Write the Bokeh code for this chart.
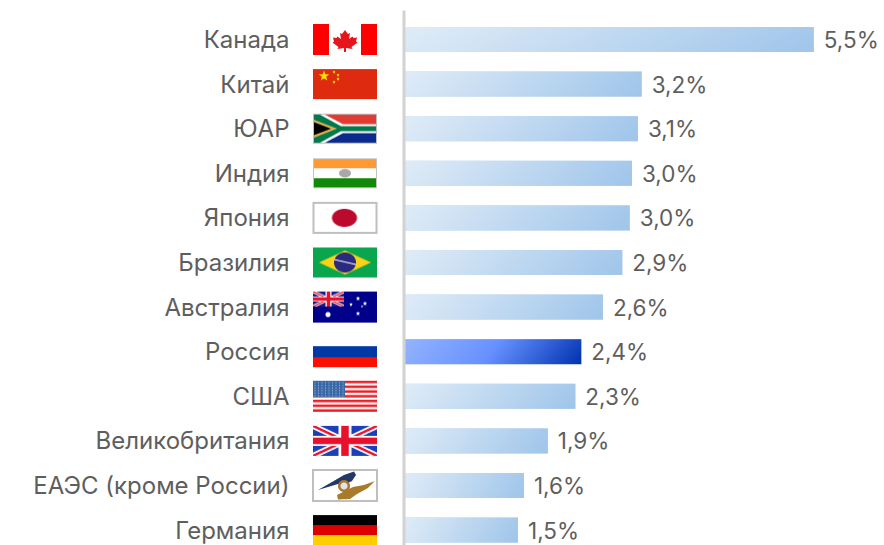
import numpy as np
from bokeh.plotting import figure
from bokeh.models import Range1d, ColumnDataSource
from bokeh.core.properties import value
from bokeh.embed import file_html
from bokeh.resources import INLINE

categories = ["Канада", "Китай", "ЮАР", "Индия", "Япония", "Бразилия", "Австралия",
              "Россия", "США", "Великобритания", "ЕАЭС (кроме России)", "Германия"]
values = [5.5, 3.19, 3.14, 3.06, 3.03, 2.93, 2.67, 2.38, 2.30, 1.93, 1.61, 1.53]
labels = ["5,5%", "3,2%", "3,1%", "3,0%", "3,0%", "2,9%", "2,6%", "2,4%", "2,3%", "1,9%", "1,6%", "1,5%"]
highlight = "Россия"

WIDTH, HEIGHT = 884, 545
PXX = 74.5      # px per percent
PITCH = 44.6    # px per row
X0 = 403.5      # px of zero
Y0 = 39         # px of the first row
FONT = "Inter"
TEXT = "#5e5e5e"
SS = 4


def hexc(c):
    c = c.lstrip("#")
    return np.array([int(c[i:i + 2], 16) for i in (0, 2, 4)], dtype=float)


class Flag:
    def __init__(self, w, h, bg="#ffffff"):
        self.w, self.h = w, h
        self.a = np.ones((h * SS, w * SS, 3)) * hexc(bg)
        xs = (np.arange(w * SS) + .5) / SS
        ys = (np.arange(h * SS) + .5) / SS
        self.u, self.v = np.meshgrid(xs, ys)

    def paint(self, m, c):
        self.a[m] = hexc(c)

    def rect(self, x0, y0, x1, y1, c):
        self.paint((self.u >= x0) & (self.u < x1) & (self.v >= y0) & (self.v < y1), c)

    def circle(self, x, y, rx, c, ry=None):
        ry = ry or rx
        self.paint(((self.u - x) / rx) ** 2 + ((self.v - y) / ry) ** 2 <= 1, c)

    def poly(self, pts, c):
        m = np.zeros_like(self.u, dtype=bool)
        n = len(pts)
        for i in range(n):
            x1, y1 = pts[i]
            x2, y2 = pts[(i + 1) % n]
            if y1 == y2:
                continue
            cond = (y1 > self.v) != (y2 > self.v)
            m ^= cond & (self.u < (x2 - x1) * (self.v - y1) / (y2 - y1) + x1)
        self.paint(m, c)

    def line(self, x1, y1, x2, y2, t, c):
        dx, dy = x2 - x1, y2 - y1
        l = np.hypot(dx, dy)
        nx, ny = -dy / l * t / 2, dx / l * t / 2
        self.poly([(x1 + nx, y1 + ny), (x2 + nx, y2 + ny), (x2 - nx, y2 - ny), (x1 - nx, y1 - ny)], c)

    def star(self, x, y, r, c):
        pts = []
        for k in range(10):
            rr = r if k % 2 == 0 else r * .42
            t = -np.pi / 2 + k * np.pi / 5
            pts.append((x + rr * np.cos(t), y + rr * np.sin(t)))
        self.poly(pts, c)

    def border(self, t, c):
        w, h = self.w, self.h
        self.rect(0, 0, w, t, c); self.rect(0, h - t, w, h, c)
        self.rect(0, 0, t, h, c); self.rect(w - t, 0, w, h, c)

    def rgba(self):
        h, w = self.h, self.w
        b = self.a.reshape(h, SS, w, SS, 3).mean(axis=(1, 3))
        out = np.zeros((h, w), dtype=np.uint32)
        v = out.view(dtype=np.uint8).reshape((h, w, 4))
        v[:, :, :3] = np.round(b[::-1]).astype(np.uint8)
        v[:, :, 3] = 255
        return out


def union_jack(f, W, H, blue):
    f.rect(0, 0, W, H, blue)
    f.line(0, 0, W, H, H * .2, "#ffffff")
    f.line(0, H, W, 0, H * .2, "#ffffff")
    f.line(0, 0, W, H, H * .08, "#e8112d")
    f.line(0, H, W, 0, H * .08, "#e8112d")
    f.rect(W * .4, 0, W * .6, H, "#ffffff")
    f.rect(0, H * .33, W, H * .67, "#ffffff")
    f.rect(W * .44, 0, W * .56, H, "#e8112d")
    f.rect(0, H * .39, W, H * .61, "#e8112d")


def canada():
    f = Flag(64, 31)
    f.rect(0, 0, 16, 31, "#ff0000"); f.rect(48, 0, 64, 31, "#ff0000")
    cx = 32
    half = [(0, 6), (3, 10), (5, 9), (4, 15), (7.5, 12.5), (8.5, 14), (12, 13.5), (11, 17.5),
            (12.5, 18.5), (6.5, 23), (7.5, 25), (1, 24), (1, 28)]
    pts = [(cx + a, b) for a, b in half] + [(cx - a, b) for a, b in reversed(half)]
    f.poly(pts, "#e8141c")
    return f


def china():
    f = Flag(64, 30, "#de2a0e")
    f.star(11, 7, 5.5, "#ffde00")
    for x, y in [(21, 3), (25, 6), (25, 10), (21, 13)]:
        f.star(x, y, 1.9, "#ffde00")
    return f


def south_africa():
    f = Flag(64, 30, "#bdbdbd")
    f.rect(1, 1, 63, 14, "#e03c31")
    f.rect(1, 16, 63, 29, "#0a2a8c")
    f.poly([(1, 1), (12, 1), (30, 10.5), (63, 10.5), (63, 19.5), (30, 19.5), (12, 29), (1, 29)], "#ffffff")
    f.poly([(1, 1), (7, 1), (28, 12.5), (63, 12.5), (63, 17.5), (28, 17.5), (7, 29), (1, 29)], "#007a4d")
    f.poly([(1, 6), (24, 15), (1, 24)], "#e2b050")
    f.poly([(1, 8.5), (18, 15), (1, 21.5)], "#000000")
    return f


def india():
    f = Flag(64, 30, "#ffffff")
    f.rect(1, 1, 63, 10, "#ff9933")
    f.rect(1, 20, 63, 29, "#138808")
    f.circle(32, 15, 6, "#a8a8a8", 4.2)
    f.border(1, "#c4c4c4")
    return f


def japan():
    f = Flag(65, 32)
    f.circle(32, 16, 12.5, "#bc0a2e", 9)
    f.border(2, "#bfbfbf")
    return f


def brazil():
    f = Flag(64, 30, "#0aa64d")
    f.poly([(6, 15), (32, 3), (58, 15), (32, 27)], "#fcd116")
    f.circle(32, 15, 11, "#2a2a80", 10)
    f.line(21, 12, 43, 17, 1, "#ffffff")
    return f


def australia():
    f = Flag(64, 31, "#00008b")
    g_w, g_h = 31, 15
    sub = Flag(g_w, g_h)
    union_jack(sub, g_w, g_h, "#1a1a8c")
    f.a[:g_h * SS, :g_w * SS] = sub.a
    f.circle(15, 23, 2.6, "#ffffff")
    for x, y, r in [(45, 7, 1.7), (38, 13, 1.4), (52, 12, 1.7), (45, 22, 1.7), (49, 15, .9)]:
        f.star(x, y, r * 1.4, "#ffffff")
    return f


def russia():
    f = Flag(64, 31)
    f.rect(0, 10, 64, 21, "#0039a6")
    f.rect(0, 21, 64, 31, "#fa0f00")
    return f


def usa():
    f = Flag(64, 31, "#ffffff")
    for k in range(0, 13, 2):
        f.rect(0, k * 31 / 13, 64, (k + 1) * 31 / 13, "#ee1c25")
    f.rect(0, 0, 32, 16.5, "#3868a8")
    for r in range(6):
        for c in range(9):
            f.circle(2 + c * 3.5, 2 + r * 2.6, .6, "#a8c0e0")
    return f


def uk():
    f = Flag(64, 30)
    union_jack(f, 64, 30, "#1a3fb8")
    return f


def eaeu():
    f = Flag(66, 33)
    f.poly([(6, 21), (20, 13), (32, 6), (42, 2.5), (44, 6), (40, 12), (34, 15), (26, 15), (16, 18)], "#243a66")
    f.poly([(25, 26), (33, 22), (41, 18), (52, 16), (63, 12), (56, 19), (45, 25), (38, 30), (26, 30.5)], "#a87a2a")
    f.circle(32, 17, 6, "#a87a2a")
    f.circle(32, 17, 3.5, "#dfe3ec")
    f.border(2, "#bfbfbf")
    return f


def germany():
    f = Flag(64, 30, "#ffce00")
    f.rect(0, 0, 64, 10, "#000000")
    f.rect(0, 10, 64, 20, "#dd0000")
    return f


flags = [canada(), china(), south_africa(), india(), japan(), brazil(),
         australia(), russia(), usa(), uk(), eaeu(), germany()]


def gradient(w, h, stops):
    """Diagonal gradient, stops = [(t, hex), ...]; row 0 is the bottom row."""
    xs = (np.arange(w) + .5) / w
    ys = (np.arange(h) + .5) / h
    X, Y = np.meshgrid(xs, ys)
    t = np.clip(.9 * X + .1 * (1 - Y), 0, 1)
    ts = [s[0] for s in stops]
    cs = np.array([hexc(s[1]) for s in stops])
    out = np.zeros((h, w), dtype=np.uint32)
    v = out.view(dtype=np.uint8).reshape((h, w, 4))
    for k in range(3):
        v[:, :, k] = np.round(np.interp(t, ts, cs[:, k])).astype(np.uint8)
    v[:, :, 3] = 255
    return out


LIGHT = [(0, "#e0ecf7"), (1, "#9fc5ea")]
STRONG = [(0, "#94b4ff"), (.5, "#6690ff"), (1, "#0033b0")]

n = len(categories)
ys = [n - 1 - i for i in range(n)]   # first category on top
BAR_PX = 25
y_top = (n - 1) + Y0 / PITCH
y_bottom = y_top - HEIGHT / PITCH

p = figure(width=WIDTH, height=HEIGHT, output_backend="svg", toolbar_location=None,
           min_border=0, outline_line_color=None, background_fill_color="white",
           x_range=Range1d(-X0 / PXX, (WIDTH - X0) / PXX),
           y_range=Range1d(y_bottom, y_top),
           x_axis_location=None, y_axis_location=None)
p.grid.visible = False

src = ColumnDataSource(dict(y=ys, v=values, lab=labels, cat=categories))
p.hbar(y="y", left=0, right="v", height=BAR_PX / PITCH, source=src,
       fill_color="#bcd7f0", line_color=None)

for i, (c, val) in enumerate(zip(categories, values)):
    w = max(2, int(round(val * PXX)))
    img = gradient(w, BAR_PX, STRONG if c == highlight else LIGHT)
    p.image_rgba(image=[img], x=[0], y=[ys[i] - BAR_PX / PITCH / 2], dw=[val], dh=[BAR_PX / PITCH])
    fl = flags[i]
    cx = -(X0 - 344.5) / PXX
    p.image_rgba(image=[fl.rgba()], x=[cx], y=[ys[i]], dw=[fl.w], dh=[fl.h],
                 dw_units="screen", dh_units="screen", anchor="center")

p.segment(x0=[0], x1=[0], y0=[y_top - 10 / PITCH], y1=[y_bottom],
          line_color="#d2d2d2", line_width=3)

p.text(x=0, y="y", text="cat", source=src, x_offset=-114.5, text_align="right", text_baseline="middle",
       text_font=value(FONT), text_font_size="24px", text_color=TEXT)
p.text(x="v", y="y", text="lab", source=src, x_offset=10, text_align="left", text_baseline="middle",
       text_font=value(FONT), text_font_size="22.5px", text_color=TEXT)

open("out.html", "w").write(file_html(p, INLINE))
